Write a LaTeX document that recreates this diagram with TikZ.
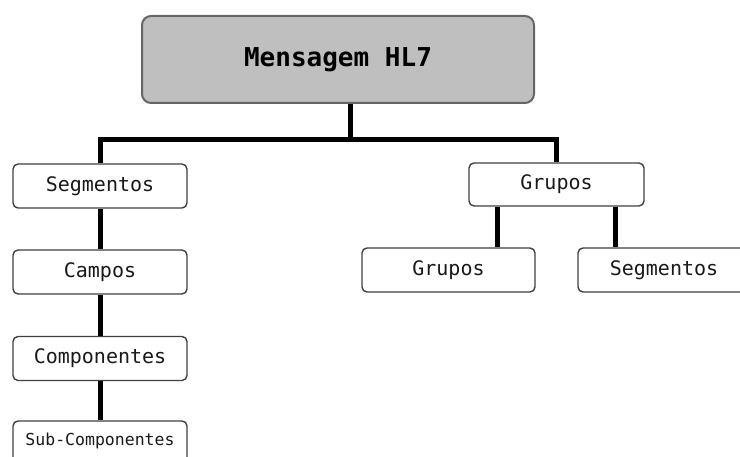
\documentclass[tikz,border=0pt]{standalone}
\usepackage{fontspec}
\setmonofont{DejaVu Sans Mono}
\begin{document}
\begin{tikzpicture}[x=1pt,y=-1pt,
  box/.style={draw=black!75, line width=1.4pt, rounded corners=5pt, fill=white,
    minimum width=174pt, minimum height=44pt, inner sep=0pt,
    font=\ttfamily\fontsize{20}{24}\selectfont, text=black!90},
  titlebox/.style={draw=black!60, line width=2pt, rounded corners=9pt, fill=black!25,
    minimum width=392pt, minimum height=87pt, inner sep=0pt,
    font=\ttfamily\bfseries\fontsize{26}{30}\selectfont},
  link/.style={line width=5pt, black}]
\useasboundingbox (0,0) rectangle (740,457);
\clip (0,0) rectangle (740,457);

% root
\node[titlebox] (msg) at (338,59.5) {Mensagem HL7};

% left branch
\node[box] (seg)  at (100,186)   {Segmentos};
\node[box] (camp) at (100,272)   {Campos};
\node[box] (comp) at (100,358.5) {Componentes};
\node[box, font=\ttfamily\fontsize{16.5}{19}\selectfont] (sub) at (100,443)
  {\raisebox{8.5pt}{Sub-Componentes}};

% right branch
\node[box, minimum width=175pt, minimum height=43pt] (grp)  at (556.5,184.5) {Grupos};
\node[box, minimum width=173pt] (grp2) at (448.5,270) {Grupos};
\node[box, minimum width=172pt] (seg2) at (664,270) {Segmentos};

% junction points
\coordinate (hub) at (350,140);
\coordinate (ca) at (497,0);
\coordinate (cb) at (615,0);

% connectors
\draw[link] (msg.south -| hub) -- (hub);
\draw[link] (seg.north) -- (seg.north |- hub) -- (grp.north |- hub) -- (grp.north);
\draw[link] (seg.south) -- (camp.north);
\draw[link] (camp.south) -- (comp.north);
\draw[link] (comp.south) -- (sub.north);
\draw[link] (grp.south -| ca) -- (grp2.north -| ca);
\draw[link] (grp.south -| cb) -- (seg2.north -| cb);
\end{tikzpicture}
\end{document}
